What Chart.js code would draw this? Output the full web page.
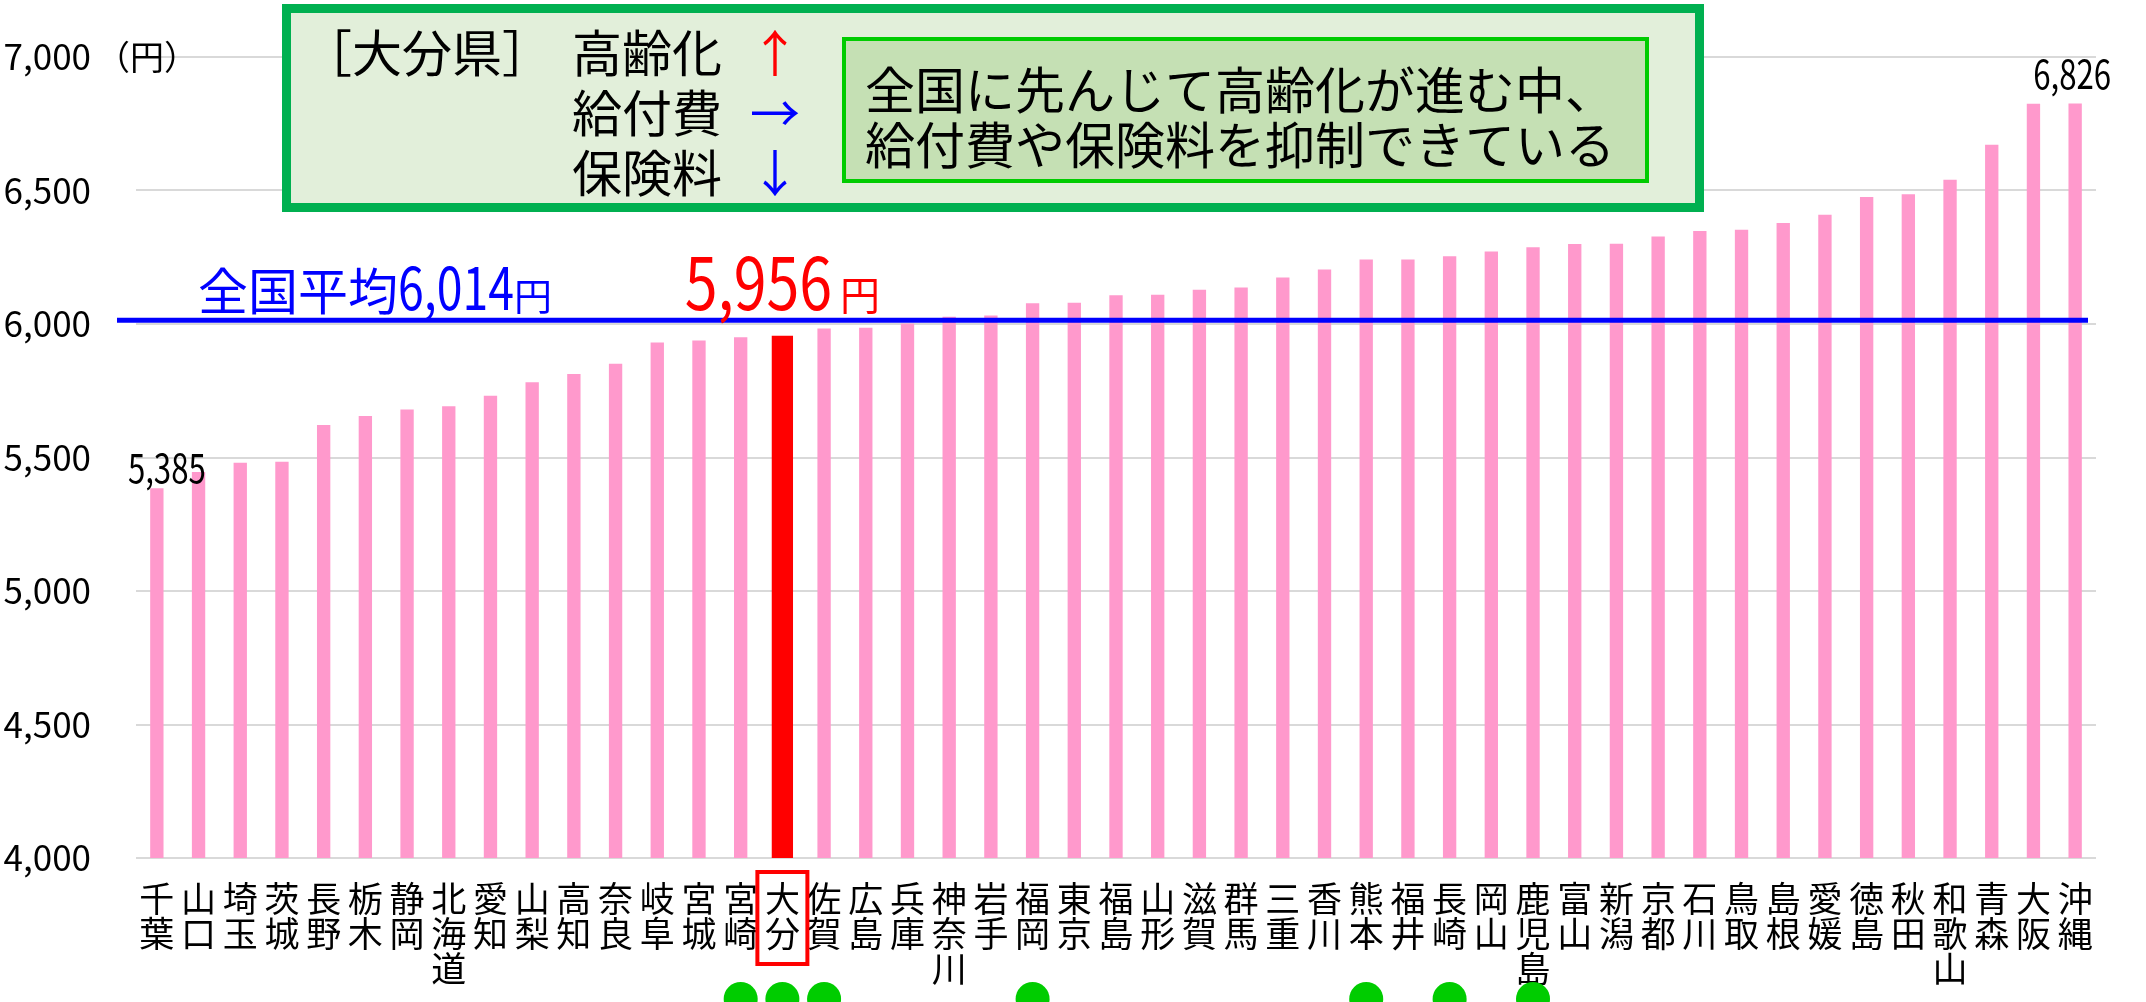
<!DOCTYPE html>
<html lang="ja">
<head>
<meta charset="utf-8">
<title>保険料</title>
<script src="https://cdn.jsdelivr.net/npm/chart.js@4.4.1/dist/chart.umd.min.js"></script>
<style>
  body { margin: 0; background: #fff; }
  #wrap { position: relative; width: 2146px; height: 1002px; font-family: "Noto Sans CJK JP", sans-serif; color: #000; }
  #chart { position: absolute; left: 0; top: 0; }
  .outer { position: absolute; left: 282px; top: 4px; width: 1422px; height: 208px; box-sizing: border-box;
           border: 9px solid #00B050; background: #E2EFDA; }
  .inner { position: absolute; left: 842px; top: 37px; width: 807px; height: 146px; box-sizing: border-box;
           border: 4px solid #00CC00; background: #C5E0B4; font-size: 50px; line-height: 55px;
           padding: 19px 0 0 19px; white-space: nowrap; }
  .t50 { position: absolute; font-size: 50px; line-height: 60px; white-space: nowrap; }
  .up { color: #FF0000; }
  .blue { color: #0000FF; }
</style>
</head>
<body>
<div id="wrap">
  <canvas id="chart" width="2146" height="1002"></canvas>
  <div class="outer"></div>
  <div class="t50" style="left:302px; top:20px;">［大分県］</div>
  <div class="t50" style="left:572px; top:20px;">高齢化<br>給付費<br>保険料</div>
  <div class="t50" style="left:750px; top:20px;"><span class="up">↑</span><br><span class="blue">→</span><br><span class="blue">↓</span></div>
  <div class="inner">全国に先んじて高齢化が進む中、<br>給付費や保険料を抑制できている</div>
</div>

<script>
var FONT = '"Noto Sans CJK JP", sans-serif';

var prefs = ['千葉','山口','埼玉','茨城','長野','栃木','静岡','北海道','愛知','山梨',
             '高知','奈良','岐阜','宮城','宮崎','大分','佐賀','広島','兵庫','神奈川',
             '岩手','福岡','東京','福島','山形','滋賀','群馬','三重','香川','熊本',
             '福井','長崎','岡山','鹿児島','富山','新潟','京都','石川','鳥取','島根',
             '愛媛','徳島','秋田','和歌山','青森','大阪','沖縄'];

var premium = [5385, 5446, 5480, 5484, 5622, 5655, 5680, 5692, 5731, 5782,
               5813, 5851, 5931, 5938, 5950, 5956, 5983, 5986, 6002, 6027,
               6032, 6078, 6080, 6108, 6110, 6128, 6137, 6174, 6204, 6242,
               6242, 6254, 6272, 6287, 6300, 6301, 6328, 6348, 6353, 6378,
               6409, 6476, 6486, 6540, 6671, 6825, 6826];

var nationalAvg = 6014;
var highlight = '大分';
var kyushu = ['宮崎','大分','佐賀','福岡','熊本','長崎','鹿児島'];
var labelled = ['千葉','沖縄'];

var yMin = 4000, yMax = 7000, yStep = 500;

var hiIdx = prefs.indexOf(highlight);
var pinkData = premium.map(function (v, i) { return i === hiIdx ? null : v; });
var redData = premium.map(function (v, i) { return i === hiIdx ? v : null; });

function fmt(v) { return v.toLocaleString('en-US'); }

// draws pieces of text of different size one after another
function drawRuns(ctx, runs, x, baseline, align) {
  var widths = runs.map(function (r) {
    ctx.font = r.size + 'px ' + FONT;
    return ctx.measureText(r.text).width * (r.sx || 1) + (r.gap || 0);
  });
  var total = widths.reduce(function (a, b) { return a + b; }, 0);
  var cx = align === 'center' ? x - total / 2 : x;
  runs.forEach(function (r, i) {
    ctx.save();
    ctx.font = r.size + 'px ' + FONT;
    ctx.fillStyle = r.color || '#000';
    ctx.textAlign = 'left';
    ctx.textBaseline = 'alphabetic';
    ctx.translate(cx + (r.gap || 0), baseline);
    ctx.scale(r.sx || 1, 1);
    ctx.fillText(r.text, 0, 0);
    ctx.restore();
    cx += widths[i];
  });
}

var annotations = {
  id: 'annotations',
  afterDatasetsDraw: function (chart) {
    var ctx = chart.ctx, area = chart.chartArea;
    var xs = chart.scales.x, ys = chart.scales.y;
    var avgY = ys.getPixelForValue(nationalAvg);

    ctx.save();
    ctx.strokeStyle = '#0000FF';
    ctx.lineWidth = 5;
    ctx.beginPath();
    ctx.moveTo(area.left - 19, avgY);
    ctx.lineTo(area.right - 8, avgY);
    ctx.stroke();
    ctx.restore();

    drawRuns(ctx, [
      { text: '全国平均', size: 50, color: '#0000FF' },
      { text: fmt(nationalAvg), size: 58, sx: 0.8, color: '#0000FF' },
      { text: '円', size: 38, color: '#0000FF' }
    ], area.left + 62, avgY - 10, 'left');

    var hiBar = chart.getDatasetMeta(1).data[hiIdx];
    drawRuns(ctx, [
      { text: fmt(premium[hiIdx]), size: 72, sx: 0.82, color: '#FF0000' },
      { text: '円', size: 40, gap: 8, color: '#FF0000' }
    ], hiBar.x, avgY - 10, 'center');

    var meta = chart.getDatasetMeta(0);
    var first = meta.data[prefs.indexOf(labelled[0])];
    var last = meta.data[prefs.indexOf(labelled[1])];
    drawRuns(ctx, [{ text: fmt(premium[prefs.indexOf(labelled[0])]), size: 40, sx: 0.78 }], first.x + 10, first.y - 5, 'center');
    drawRuns(ctx, [{ text: fmt(premium[prefs.indexOf(labelled[1])]), size: 40, sx: 0.78 }], last.x - 3, last.y - 14, 'center');

    // unit next to the top tick
    ctx.save();
    ctx.font = '34px ' + FONT;
    ctx.fillStyle = '#000';
    ctx.textBaseline = 'middle';
    ctx.fillText('（円）', 96, ys.getPixelForValue(yMax));
    ctx.restore();
  },
  afterDraw: function (chart) {
    var ctx = chart.ctx, area = chart.chartArea, xs = chart.scales.x;
    ctx.save();
    var hx = xs.getPixelForValue(hiIdx);
    ctx.strokeStyle = '#FF0000';
    ctx.lineWidth = 4;
    ctx.strokeRect(hx - 25, area.bottom + 14, 50, 92);

    ctx.fillStyle = '#00CC00';
    kyushu.forEach(function (name) {
      var cx = xs.getPixelForValue(prefs.indexOf(name));
      ctx.beginPath();
      ctx.arc(cx, area.bottom + 141, 17, 0, Math.PI * 2);
      ctx.fill();
    });
    ctx.restore();
  }
};

Chart.defaults.font.family = FONT;
Chart.defaults.color = '#000';

new Chart(document.getElementById('chart'), {
  type: 'bar',
  data: {
    labels: prefs.map(function (p) { return p.split(''); }),
    datasets: [{
      data: pinkData,
      backgroundColor: '#FF99CC',
      barPercentage: 0.32,
      categoryPercentage: 1,
      grouped: false
    }, {
      data: redData,
      backgroundColor: '#FF0000',
      barPercentage: 0.51,
      categoryPercentage: 1,
      grouped: false
    }]
  },
  options: {
    responsive: false,
    animation: false,
    devicePixelRatio: 1,
    layout: { padding: { top: 57, right: 50, left: 0, bottom: 0 } },
    plugins: { legend: { display: false }, tooltip: { enabled: false } },
    scales: {
      x: {
        grid: { display: false, drawTicks: false },
        border: { display: false },
        ticks: { autoSkip: false, maxRotation: 0, minRotation: 0, padding: 23,
                 font: { size: 35, lineHeight: 1 } },
        afterFit: function (s) { s.height = 144; }
      },
      y: {
        min: yMin, max: yMax,
        grid: { color: '#D9D9D9', lineWidth: 2, drawTicks: false },
        border: { display: false },
        ticks: { stepSize: yStep, padding: 45, font: { size: 35 },
                 callback: function (v) { return fmt(v); } },
        afterFit: function (s) {
          s.width = 136;
          // the tick padding would otherwise push the plot down
          s.paddingTop = 0;
          s.paddingBottom = 0;
        }
      }
    }
  },
  plugins: [annotations]
});
</script>
</body>
</html>
